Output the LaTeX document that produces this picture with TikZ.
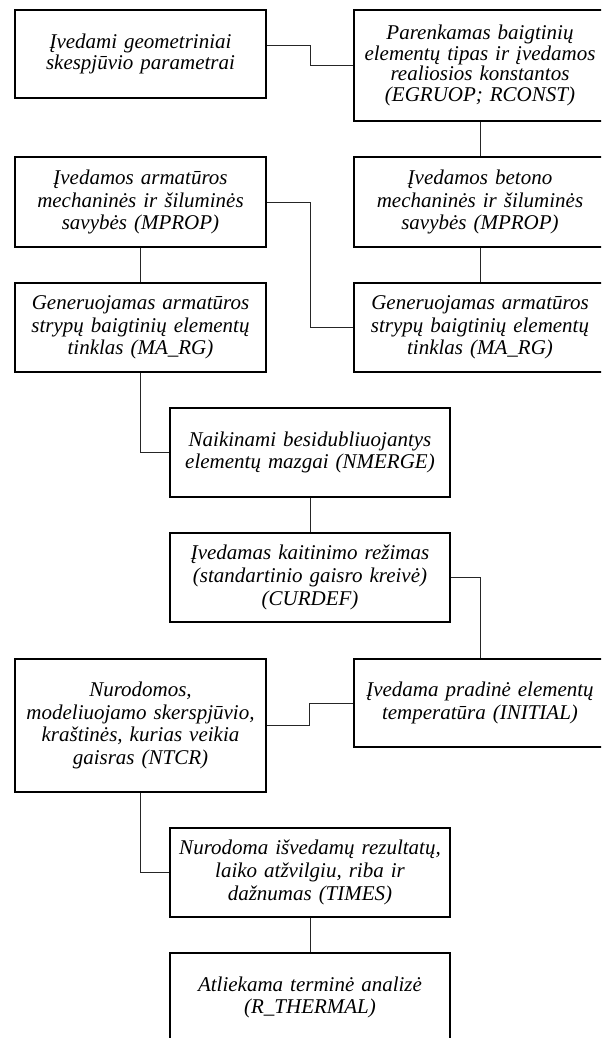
\documentclass[tikz,border=0pt]{standalone}
\usepackage{fontspec}
\setmainfont{Liberation Serif}
\tikzset{
  box/.style={draw, line width=0.9pt, align=center, inner xsep=3pt, inner ysep=0pt,
    font=\fontsize{12.6}{13.6}\selectfont\itshape},
  leftbox/.style={box, text width=144.6pt},
  midbox/.style={box, text width=162pt},
  rightbox/.style={box, text width=145.2pt},
  link/.style={line width=0.6pt, black!85}
}
\begin{document}
\begin{tikzpicture}[x=0.6pt,y=-0.6pt]
\clip (0,0) rectangle (601,1038);
\node[leftbox, minimum height=52.8pt, font=\fontsize{12.6}{12.2}\selectfont\itshape] (geom) at (140.5,54) {Įvedami geometriniai\\skespjūvio parametrai};
\node[rightbox, minimum height=66.6pt, font=\fontsize{12.6}{12.4}\selectfont\itshape] (eltype) at (480,65.5) {Parenkamas baigtinių\\elementų tipas ir įvedamos\\realiosios konstantos\\(EGRUOP; RCONST)};
\node[leftbox, minimum height=54pt] (rebarprop) at (140.5,202) {Įvedamos armatūros\\mechaninės ir šiluminės\\savybės (MPROP)};
\node[rightbox, minimum height=54pt] (concprop) at (480,202) {Įvedamos betono\\mechaninės ir šiluminės\\savybės (MPROP)};
\node[leftbox, minimum height=53.4pt] (meshL) at (140.5,327.5) {Generuojamas armatūros\\strypų baigtinių elementų\\tinklas (MA\_RG)};
\node[rightbox, minimum height=53.4pt] (meshR) at (480,327.5) {Generuojamas armatūros\\strypų baigtinių elementų\\tinklas (MA\_RG)};
\node[midbox, minimum height=53.4pt] (nmerge) at (310,452.5) {Naikinami besidubliuojantys\\elementų mazgai (NMERGE)};
\node[midbox, minimum height=53.4pt] (curdef) at (310,577.5) {Įvedamas kaitinimo režimas\\(standartinio gaisro kreivė)\\(CURDEF)};
\node[leftbox, minimum height=79.8pt] (ntcr) at (140.5,725.5) {Nurodomos,\\modeliuojamo skerspjūvio,\\kraštinės, kurias veikia\\gaisras (NTCR)};
\node[rightbox, minimum height=52.8pt] (initial) at (480,703) {Įvedama pradinė elementų\\temperatūra (INITIAL)};
\node[midbox, minimum height=53.4pt] (times) at (310,872.5) {Nurodoma išvedamų rezultatų,\\laiko atžvilgiu, riba ir\\dažnumas (TIMES)};
\node[midbox, minimum height=53.4pt] (thermal) at (310,997.5) {Atliekama terminė analizė\\(R\_THERMAL)};
\draw[link] ([yshift=5.4pt]geom.east) -- ++(44,0) |- (eltype.west);
\draw[link] (eltype.south) -- (concprop.north);
\draw[link] (rebarprop.east) -- ++(44,0) |- (meshR.west);
\draw[link] (rebarprop.south) -- (meshL.north);
\draw[link] (concprop.south) -- (meshR.north);
\draw[link] (meshL.south) |- (nmerge.west);
\draw[link] (nmerge.south) -- (curdef.north);
\draw[link] (curdef.east) -| (initial.north);
\draw[link] (initial.west) -- ++(-44,0) |- (ntcr.east);
\draw[link] (ntcr.south) |- (times.west);
\draw[link] (times.south) -- (thermal.north);
\end{tikzpicture}
\end{document}
